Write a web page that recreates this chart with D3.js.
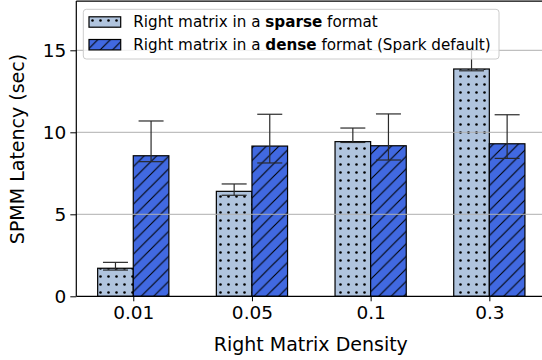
<!DOCTYPE html>
<html>
<head>
<meta charset="utf-8">
<script src="https://cdn.jsdelivr.net/npm/d3@7"></script>
<style>
  html, body { margin: 0; padding: 0; background: #fff; }
  svg { display: block; font-family: "DejaVu Sans", sans-serif; }
</style>
</head>
<body>
<svg id="chart" width="542" height="360"></svg>
<script>
// Right-matrix density levels on the x axis
const densities = ["0.01", "0.05", "0.1", "0.3"];

// SPMM latency (sec) with the right matrix stored sparse
const sparseMean = [1.71, 6.40, 9.43, 13.86];
const sparseLow  = [1.60, 6.16, 9.38, 13.75];
const sparseHigh = [2.07, 6.85, 10.26, 15.00];

// SPMM latency (sec) with the right matrix stored dense (Spark default)
const denseMean = [8.57, 9.16, 9.18, 9.30];
const denseLow  = [8.21, 8.13, 8.31, 8.41];
const denseHigh = [10.69, 11.10, 11.12, 11.07];

const yTicks = [0, 5, 10, 15];

(function draw() {
  const svg = d3.select("#chart");
  const pLeft = 76.3, pRight = 546.3, pTop = 1.1, pBottom = 296.3;
  const barW = 0.3;

  const x = d3.scaleLinear().domain([-0.48, 3.48]).range([pLeft, pRight]);
  const y = d3.scaleLinear().domain([0, 18]).range([pBottom, pTop]);

  // hatch patterns
  const defs = svg.append("defs");
  const D = 8;
  const dots = defs.append("pattern").attr("id", "dots")
    .attr("patternUnits", "userSpaceOnUse").attr("width", D).attr("height", D)
    .attr("x", 0).attr("y", 0);
  dots.append("rect").attr("width", D).attr("height", D).attr("fill", "#b0c4de");
  dots.append("circle").attr("cx", 4.5).attr("cy", 4.5).attr("r", 1.3).attr("fill", "#000");

  const P = 12.5;
  const diag = defs.append("pattern").attr("id", "diag")
    .attr("patternUnits", "userSpaceOnUse").attr("width", P).attr("height", P);
  diag.append("rect").attr("width", P).attr("height", P).attr("fill", "#4169e1");
  diag.append("path")
    .attr("d", `M0,${P} L${P},0 M${-P/2},${P/2} L${P/2},${-P/2} M${P/2},${P*1.5} L${P*1.5},${P/2}`)
    .attr("stroke", "#000").attr("stroke-width", 1.1);

  defs.append("clipPath").attr("id", "clip").append("rect")
    .attr("x", pLeft).attr("y", pTop).attr("width", pRight - pLeft).attr("height", pBottom - pTop);

  const plot = svg.append("g");

  const series = [
    { mean: sparseMean, low: sparseLow, high: sparseHigh, fill: "url(#dots)", off: -barW / 2 },
    { mean: denseMean,  low: denseLow,  high: denseHigh,  fill: "url(#diag)", off: barW / 2 }
  ];

  // bars
  const barLayer = plot.append("g").attr("clip-path", "url(#clip)");
  series.forEach(s => {
    barLayer.selectAll(null).data(s.mean).enter().append("rect")
      .attr("x", (d, i) => x(i + s.off - barW / 2))
      .attr("y", d => y(d))
      .attr("width", x(barW) - x(0))
      .attr("height", d => y(0) - y(d))
      .attr("fill", s.fill)
      .attr("stroke", "#000").attr("stroke-width", 1.2);
  });

  // horizontal grid
  plot.append("g").selectAll("line").data(yTicks.filter(t => t > 0)).enter().append("line")
    .attr("x1", pLeft).attr("x2", pRight)
    .attr("y1", d => y(d)).attr("y2", d => y(d))
    .attr("stroke", "#b0b0b0").attr("stroke-width", 1);

  // error bars
  const errLayer = plot.append("g").attr("stroke", "#2a2a2a").attr("stroke-width", 1.2);
  series.forEach(s => {
    s.mean.forEach((m, i) => {
      const cx = x(i + s.off);
      const cw = 12.5;
      errLayer.append("line").attr("x1", cx).attr("x2", cx).attr("y1", y(s.low[i])).attr("y2", y(s.high[i]));
      errLayer.append("line").attr("x1", cx - cw).attr("x2", cx + cw).attr("y1", y(s.low[i])).attr("y2", y(s.low[i]));
      errLayer.append("line").attr("x1", cx - cw).attr("x2", cx + cw).attr("y1", y(s.high[i])).attr("y2", y(s.high[i]));
    });
  });

  // axes
  const xAxis = svg.append("g").attr("transform", `translate(0,${pBottom})`)
    .call(d3.axisBottom(x).tickValues([0, 1, 2, 3]).tickFormat(i => densities[i]).tickSize(5).tickPadding(5));
  const yAxis = svg.append("g").attr("transform", `translate(${pLeft},0)`)
    .call(d3.axisLeft(y).tickValues(yTicks).tickSize(6).tickPadding(4));
  [xAxis, yAxis].forEach(a => {
    a.select(".domain").remove();
    a.selectAll(".tick line").attr("stroke", "#000").attr("stroke-width", 1);
    a.selectAll(".tick text").attr("fill", "#000")
      .style("font-family", "DejaVu Sans").style("font-size", "18.5px");
  });

  // frame (left, bottom, top)
  const frame = svg.append("g").attr("stroke", "#000").attr("stroke-width", 1.2);
  frame.append("line").attr("x1", pLeft).attr("x2", pLeft).attr("y1", pTop).attr("y2", pBottom);
  frame.append("line").attr("x1", pLeft).attr("x2", pRight).attr("y1", pBottom).attr("y2", pBottom);
  frame.append("line").attr("x1", pLeft).attr("x2", pRight).attr("y1", pTop).attr("y2", pTop);

  // axis titles
  svg.append("text").attr("x", (pLeft + pRight) / 2 - 0.5).attr("y", 350.5)
    .attr("text-anchor", "middle").style("font-size", "19px").attr("fill", "#000")
    .text("Right Matrix Density");
  svg.append("text").attr("transform", "translate(24,149) rotate(-90)")
    .attr("text-anchor", "middle").style("font-size", "19px").attr("fill", "#000")
    .text("SPMM Latency (sec)");

  // legend
  const lg = svg.append("g");
  lg.append("rect").attr("x", 83.3).attr("y", 9.3).attr("width", 415.7).attr("height", 49.7)
    .attr("rx", 3).attr("fill", "#fff").attr("fill-opacity", 0.8)
    .attr("stroke", "#cccccc").attr("stroke-width", 1);
  const items = [
    { fill: "url(#dots)", pre: "Right matrix in a ", bold: "sparse", post: " format", cy: 22 },
    { fill: "url(#diag)", pre: "Right matrix in a ", bold: "dense", post: " format (Spark default)", cy: 44.7 }
  ];
  items.forEach(it => {
    lg.append("rect").attr("x", 89).attr("y", it.cy - 5.2).attr("width", 31.7).attr("height", 10.4)
      .attr("fill", it.fill).attr("stroke", "#000").attr("stroke-width", 1.2);
    const t = lg.append("text").attr("x", 133.3).attr("y", it.cy).attr("dy", "0.36em")
      .style("font-size", "15.2px").attr("fill", "#000");
    t.append("tspan").text(it.pre);
    t.append("tspan").style("font-weight", "bold").text(it.bold);
    t.append("tspan").text(it.post);
  });
})();
</script>
</body>
</html>
